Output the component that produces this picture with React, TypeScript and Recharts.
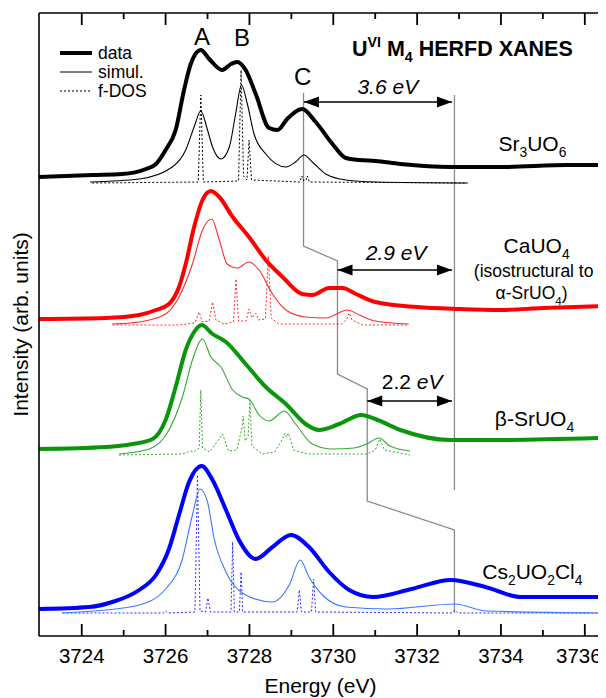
import {
  LineChart,
  Line,
  XAxis,
  YAxis,
  Legend,
  ReferenceLine,
  ReferenceDot,
} from "recharts";

const FONT = "'Liberation Sans', Arial, sans-serif";

const CHART_W = 598;
const CHART_H = 690;
const MARGIN = { top: 4, right: 3, bottom: 22, left: 30 };
const X_AXIS_H = 40;
const PLOT_BOTTOM = CHART_H - MARGIN.bottom - X_AXIS_H;

const X_DOMAIN = [3722.98, 3736.41];
const Y_DOMAIN = [0, 6.23];
const X_TICKS = [3724, 3725, 3726, 3727, 3728, 3729, 3730, 3731, 3732, 3733, 3734, 3735, 3736];
// inward tick length in y units (major / minor)
const TICK_MAJOR = 0.12;
const TICK_MINOR = 0.06;

// [energy (eV), intensity (arb. units, stacked)]
const SR_DATA = [
  [3722.98, 4.59], [3724.25, 4.61], [3724.96, 4.62], [3725.53, 4.67], [3725.77, 4.72],
  [3726.0, 4.86], [3726.24, 5.06], [3726.44, 5.46], [3726.6, 5.72], [3726.84, 5.86],
  [3727.04, 5.77], [3727.35, 5.66], [3727.56, 5.72], [3727.71, 5.74], [3727.91, 5.66],
  [3728.15, 5.42], [3728.47, 5.08], [3728.67, 5.06], [3728.9, 5.17], [3729.26, 5.27],
  [3729.58, 5.14], [3729.98, 4.92], [3730.3, 4.78], [3730.62, 4.76], [3731.0, 4.75],
  [3731.6, 4.72], [3732.8, 4.69], [3734.0, 4.69], [3735.6, 4.71], [3736.41, 4.71],
];
const SR_SIMUL = [
  [3724.2, 4.54], [3725.37, 4.57], [3726.16, 4.69], [3726.48, 4.86], [3726.68, 5.09],
  [3726.84, 5.25], [3727.0, 5.06], [3727.12, 4.89], [3727.32, 4.77], [3727.52, 4.89],
  [3727.67, 5.22], [3727.81, 5.51], [3727.95, 5.32], [3728.11, 5.02], [3728.39, 4.82],
  [3728.87, 4.69], [3729.1, 4.74], [3729.3, 4.81], [3729.5, 4.74], [3729.82, 4.62],
  [3730.3, 4.56], [3731.0, 4.54], [3733.2, 4.53],
];
const SR_FDOS = [
  [3724.25, 4.53], [3726.78, 4.54], [3726.84, 5.41], [3726.9, 4.54], [3727.74, 4.55],
  [3727.8, 5.66], [3727.86, 4.6], [3727.94, 4.56], [3727.99, 4.96], [3728.05, 4.56],
  [3729.2, 4.54], [3729.25, 4.6], [3729.3, 4.55], [3729.35, 4.56], [3729.38, 4.6],
  [3729.43, 4.54], [3733.2, 4.53],
];

const CA_DATA = [
  [3722.98, 3.17], [3724.57, 3.18], [3725.37, 3.21], [3725.77, 3.26], [3726.08, 3.32],
  [3726.32, 3.49], [3726.48, 3.72], [3726.68, 4.09], [3726.88, 4.36], [3727.08, 4.45],
  [3727.28, 4.39], [3727.6, 4.19], [3727.99, 3.99], [3728.39, 3.76], [3728.79, 3.59],
  [3729.26, 3.42], [3729.5, 3.41], [3729.9, 3.48], [3730.22, 3.48], [3730.54, 3.42],
  [3731.0, 3.34], [3732.0, 3.29], [3733.0, 3.27], [3734.0, 3.26], [3735.0, 3.28],
  [3736.41, 3.3],
];
const CA_SIMUL = [
  [3724.73, 3.12], [3725.37, 3.14], [3726.0, 3.22], [3726.32, 3.39], [3726.64, 3.72],
  [3726.88, 4.06], [3727.1, 4.17], [3727.28, 3.96], [3727.47, 3.72], [3727.71, 3.68],
  [3727.99, 3.74], [3728.23, 3.66], [3728.55, 3.42], [3728.87, 3.26], [3729.34, 3.19],
  [3729.82, 3.18], [3730.34, 3.26], [3730.62, 3.21], [3731.0, 3.15], [3731.8, 3.12],
];
const CA_FDOS = [
  [3724.73, 3.11], [3726.3, 3.11], [3726.7, 3.13], [3726.8, 3.24], [3726.88, 3.14],
  [3727.04, 3.15], [3727.12, 3.34], [3727.2, 3.16], [3727.4, 3.12], [3727.62, 3.14],
  [3727.68, 3.57], [3727.74, 3.15], [3727.92, 3.15], [3727.99, 3.27], [3728.06, 3.18],
  [3728.15, 3.23], [3728.22, 3.16], [3728.38, 3.17], [3728.45, 3.8], [3728.52, 3.18],
  [3728.7, 3.12], [3730.2, 3.12], [3730.32, 3.17], [3730.38, 3.23], [3730.45, 3.16],
  [3730.7, 3.11], [3731.8, 3.11],
];

const BE_DATA = [
  [3722.98, 1.87], [3724.57, 1.89], [3725.21, 1.92], [3725.69, 1.97], [3726.0, 2.16],
  [3726.24, 2.49], [3726.48, 2.86], [3726.68, 3.04], [3726.86, 3.11], [3727.12, 3.02],
  [3727.44, 2.94], [3727.91, 2.72], [3728.39, 2.49], [3728.87, 2.32], [3729.34, 2.12],
  [3729.66, 2.06], [3730.14, 2.12], [3730.67, 2.21], [3731.0, 2.17], [3731.6, 2.06],
  [3732.8, 1.96], [3734.1, 1.96], [3736.41, 1.98],
];
const BE_SIMUL = [
  [3724.89, 1.82], [3725.61, 1.87], [3726.08, 2.06], [3726.4, 2.39], [3726.64, 2.76],
  [3726.88, 2.97], [3727.08, 2.79], [3727.32, 2.69], [3727.6, 2.46], [3727.83, 2.39],
  [3727.99, 2.37], [3728.23, 2.21], [3728.47, 2.15], [3728.83, 2.25], [3729.1, 2.12],
  [3729.5, 1.92], [3729.98, 1.87], [3730.5, 1.88], [3730.8, 1.92], [3731.09, 1.98],
  [3731.35, 1.9], [3731.83, 1.85],
];
const BE_FDOS = [
  [3724.89, 1.81], [3726.4, 1.82], [3726.6, 1.85], [3726.66, 1.84], [3726.8, 1.88],
  [3726.84, 2.46], [3726.88, 1.88], [3727.05, 1.84], [3727.36, 2.02], [3727.5, 1.85],
  [3727.7, 1.86], [3727.82, 2.08], [3727.85, 2.2], [3727.9, 1.95], [3727.97, 2.0],
  [3728.01, 2.36], [3728.06, 1.9], [3728.3, 1.82], [3728.6, 1.84], [3728.8, 1.98],
  [3728.85, 2.03], [3728.88, 1.99], [3728.93, 2.03], [3729.05, 1.86], [3729.4, 1.82],
  [3730.8, 1.82], [3731.0, 1.86], [3731.11, 1.97], [3731.22, 1.86], [3731.83, 1.81],
];

const CS_DATA = [
  [3722.98, 0.27], [3724.18, 0.29], [3724.73, 0.34], [3725.37, 0.46], [3725.77, 0.61],
  [3726.08, 0.87], [3726.32, 1.21], [3726.56, 1.54], [3726.86, 1.7], [3727.12, 1.56],
  [3727.44, 1.26], [3727.75, 0.96], [3728.15, 0.77], [3728.55, 0.89], [3728.99, 1.01],
  [3729.42, 0.89], [3729.9, 0.64], [3730.38, 0.46], [3730.95, 0.39], [3731.87, 0.47],
  [3732.8, 0.56], [3733.63, 0.49], [3734.47, 0.39], [3736.41, 0.39],
];
const CS_SIMUL = [
  [3723.54, 0.23], [3724.57, 0.26], [3725.37, 0.31], [3726.0, 0.47], [3726.4, 0.77],
  [3726.64, 1.21], [3726.82, 1.47], [3727.0, 1.34], [3727.16, 0.97], [3727.44, 0.64],
  [3727.91, 0.41], [3728.55, 0.34], [3728.95, 0.51], [3729.21, 0.76], [3729.42, 0.59],
  [3729.74, 0.41], [3730.3, 0.29], [3731.3, 0.27], [3732.9, 0.32], [3733.65, 0.25],
  [3736.41, 0.23],
];
const CS_FDOS = [
  [3723.54, 0.23], [3725.95, 0.23], [3726.0, 0.25], [3726.05, 0.23], [3726.7, 0.24],
  [3726.76, 1.61], [3726.82, 0.25], [3726.95, 0.24], [3727.01, 0.38], [3727.07, 0.24],
  [3727.56, 0.24], [3727.6, 0.94], [3727.64, 0.24], [3727.76, 0.24], [3727.8, 0.64],
  [3727.84, 0.24], [3729.14, 0.24], [3729.19, 0.46], [3729.24, 0.24], [3729.48, 0.24],
  [3729.53, 0.57], [3729.58, 0.24], [3732.83, 0.23], [3732.9, 0.26], [3732.97, 0.23],
  [3736.41, 0.23],
];

// C-peak guide and reference line
const GUIDE = [
  [3729.29, 5.43], [3729.29, 3.9], [3730.1, 3.75], [3730.1, 2.62],
  [3730.81, 2.47], [3730.81, 1.35], [3732.89, 1.06], [3732.89, 0.23],
];
const REF_LINE = [[3732.89, 5.41], [3732.89, 1.46]];

const SPECTRA = [
  { name: "Sr3UO6", data: SR_DATA, simul: SR_SIMUL, fdos: SR_FDOS, color: "#000000", thin: "#000000", dots: "#000000" },
  { name: "CaUO4", data: CA_DATA, simul: CA_SIMUL, fdos: CA_FDOS, color: "#ff0000", thin: "#ff2a2a", dots: "#ff2a2a" },
  { name: "b-SrUO4", data: BE_DATA, simul: BE_SIMUL, fdos: BE_FDOS, color: "#0a960a", thin: "#35a835", dots: "#35a835" },
  { name: "Cs2UO2Cl4", data: CS_DATA, simul: CS_SIMUL, fdos: CS_FDOS, color: "#0000ff", thin: "#3b78ff", dots: "#2a2aff" },
];

const ARROWS = [
  { from: 3729.3, to: 3732.83, y: 5.34 },
  { from: 3730.1, to: 3732.83, y: 3.66 },
  { from: 3730.81, to: 3732.83, y: 2.35 },
];

type Part = { t: string; sub?: boolean; sup?: boolean; italic?: boolean };
type Note = { e: number; v: number; size: number; bold?: boolean; parts: Part[] };

const NOTES: Note[] = [
  { e: 3726.87, v: 6.0, size: 24, parts: [{ t: "A" }] },
  { e: 3727.82, v: 5.99, size: 24, parts: [{ t: "B" }] },
  { e: 3729.27, v: 5.6, size: 24, parts: [{ t: "C" }] },
  {
    e: 3733.08, v: 5.88, size: 21.5, bold: true,
    parts: [{ t: "U" }, { t: "VI", sup: true }, { t: " M" }, { t: "4", sub: true }, { t: " HERFD XANES" }],
  },
  { e: 3731.3, v: 5.5, size: 21, parts: [{ t: "3.6 eV", italic: true }] },
  { e: 3731.5, v: 3.84, size: 21, parts: [{ t: "2.9 eV", italic: true }] },
  { e: 3731.88, v: 2.55, size: 21, parts: [{ t: "2.2 " }, { t: "eV", italic: true }] },
  { e: 3734.75, v: 4.93, size: 21, parts: [{ t: "Sr" }, { t: "3", sub: true }, { t: "UO" }, { t: "6", sub: true }] },
  { e: 3734.85, v: 3.91, size: 21, parts: [{ t: "CaUO" }, { t: "4", sub: true }] },
  { e: 3734.78, v: 3.65, size: 17.5, parts: [{ t: "(isostructural to" }] },
  { e: 3734.73, v: 3.43, size: 17.5, parts: [{ t: "\u03b1-SrUO" }, { t: "4", sub: true }, { t: ")" }] },
  { e: 3734.8, v: 2.18, size: 21, parts: [{ t: "\u03b2-SrUO" }, { t: "4", sub: true }] },
  {
    e: 3734.75, v: 0.65, size: 21,
    parts: [{ t: "Cs" }, { t: "2", sub: true }, { t: "UO" }, { t: "2", sub: true }, { t: "Cl" }, { t: "4", sub: true }],
  },
];

const LEGEND_ITEMS = [
  { label: "data", width: 4, dash: undefined },
  { label: "simul.", width: 1, dash: undefined },
  { label: "f-DOS", width: 1, dash: "2 2" },
];

const toPoints = (rows: number[][]) => rows.map(([e, v]) => ({ e, v }));
const isMajor = (t: number) => t % 2 === 0;

// inward tick marks on the bottom and top frame, as broken line segments
const tickMarks = (edge: number, dir: number) =>
  X_TICKS.flatMap((t) => [
    { e: t, v: edge },
    { e: t, v: edge + dir * (isMajor(t) ? TICK_MAJOR : TICK_MINOR) },
    { e: t, v: null },
  ]);

function RichText({ cx, cy, note }: { cx: number; cy: number; note: Note }) {
  const { size, bold, parts } = note;
  let shift = 0;
  return (
    <text
      x={cx}
      y={cy + size * 0.36}
      textAnchor="middle"
      fontFamily={FONT}
      fontSize={size}
      fontWeight={bold ? "bold" : "normal"}
      fill="#000"
    >
      {parts.map((p, i) => {
        const target = p.sub ? size * 0.3 : p.sup ? -size * 0.42 : 0;
        const dy = target - shift;
        shift = target;
        return (
          <tspan
            key={i}
            dy={dy}
            fontSize={p.sub || p.sup ? size * 0.66 : size}
            fontStyle={p.italic ? "italic" : "normal"}
          >
            {p.t}
          </tspan>
        );
      })}
    </text>
  );
}

function TickLabel(props: any) {
  const { x, payload } = props;
  if (!isMajor(payload.value)) return <g />;
  const last = payload.value === X_TICKS[X_TICKS.length - 1];
  return (
    <text
      x={last ? x - 6 : x}
      y={PLOT_BOTTOM + 27}
      textAnchor="middle"
      fontFamily={FONT}
      fontSize={20.5}
      fill="#000"
    >
      {payload.value}
    </text>
  );
}

function LegendKey() {
  return (
    <svg width={110} height={60} style={{ display: "block" }}>
      {LEGEND_ITEMS.map((item, i) => (
        <g key={item.label}>
          <line
            x1={0}
            x2={32}
            y1={10 + i * 19}
            y2={10 + i * 19}
            stroke="#000"
            strokeWidth={item.width}
            strokeDasharray={item.dash}
          />
          <text x={38} y={10 + i * 19 + 6} fontFamily={FONT} fontSize={17.5} fill="#000">
            {item.label}
          </text>
        </g>
      ))}
    </svg>
  );
}

const frame = { stroke: "#000", strokeWidth: 1.6 };

export default function App() {
  const [yMin, yMax] = Y_DOMAIN;
  return (
    <div style={{ width: CHART_W, height: CHART_H }}>
      <LineChart width={CHART_W} height={CHART_H} margin={MARGIN}>
        <XAxis
          dataKey="e"
          type="number"
          domain={X_DOMAIN}
          ticks={X_TICKS}
          interval={0}
          allowDataOverflow
          height={X_AXIS_H}
          tickSize={0}
          tickMargin={0}
          tickLine={false}
          axisLine={frame}
          tick={<TickLabel />}
          label={{
            content: ({ viewBox }: any) => (
              <text
                x={viewBox.x + viewBox.width / 2}
                y={PLOT_BOTTOM + 57}
                textAnchor="middle"
                fontFamily={FONT}
                fontSize={21}
                fill="#000"
              >
                Energy (eV)
              </text>
            ),
          }}
        />
        <XAxis
          xAxisId="top"
          orientation="top"
          dataKey="e"
          type="number"
          domain={X_DOMAIN}
          allowDataOverflow
          height={1}
          tick={false}
          tickLine={false}
          axisLine={frame}
        />
        <YAxis
          type="number"
          domain={Y_DOMAIN}
          allowDataOverflow
          width={1}
          tick={false}
          tickLine={false}
          axisLine={frame}
          label={{
            content: ({ viewBox }: any) => {
              const lx = MARGIN.left + 1 - 18;
              const ly = viewBox.y + viewBox.height / 2;
              return (
                <text
                  x={lx}
                  y={ly}
                  dy={7}
                  transform={`rotate(-90 ${lx} ${ly})`}
                  textAnchor="middle"
                  fontFamily={FONT}
                  fontSize={21}
                  fill="#000"
                >
                  Intensity (arb. units)
                </text>
              );
            },
          }}
        />
        <YAxis
          yAxisId="right"
          orientation="right"
          type="number"
          domain={Y_DOMAIN}
          allowDataOverflow
          width={1}
          tick={false}
          tickLine={false}
          axisLine={frame}
        />
        <Legend
          layout="vertical"
          align="center"
          verticalAlign="middle"
          content={() => <LegendKey />}
          wrapperStyle={{ left: 52, top: 35, width: 110 }}
        />

        <Line data={tickMarks(yMin, 1)} dataKey="v" type="linear" stroke="#000" strokeWidth={1.8} connectNulls={false} dot={false} activeDot={false} isAnimationActive={false} />
        <Line data={tickMarks(yMax, -1)} dataKey="v" type="linear" stroke="#000" strokeWidth={1.8} connectNulls={false} dot={false} activeDot={false} isAnimationActive={false} />

        <Line data={toPoints(GUIDE)} dataKey="v" type="linear" stroke="#8a8a8a" strokeWidth={1.3} dot={false} activeDot={false} isAnimationActive={false} />
        <Line data={toPoints(REF_LINE)} dataKey="v" type="linear" stroke="#8a8a8a" strokeWidth={1.3} dot={false} activeDot={false} isAnimationActive={false} />

        {SPECTRA.map((s) => (
          <Line
            key={s.name + "-fdos"}
            data={toPoints(s.fdos)}
            dataKey="v"
            type="linear"
            stroke={s.dots}
            strokeWidth={1}
            strokeDasharray="2 2"
            dot={false}
            activeDot={false}
            isAnimationActive={false}
          />
        ))}
        {SPECTRA.map((s) => (
          <Line
            key={s.name + "-simul"}
            data={toPoints(s.simul)}
            dataKey="v"
            type="monotone"
            stroke={s.thin}
            strokeWidth={1.1}
            dot={false}
            activeDot={false}
            isAnimationActive={false}
          />
        ))}
        {SPECTRA.map((s) => (
          <Line
            key={s.name + "-data"}
            data={toPoints(s.data)}
            dataKey="v"
            type="monotone"
            stroke={s.color}
            strokeWidth={4}
            dot={false}
            activeDot={false}
            isAnimationActive={false}
          />
        ))}

        {ARROWS.map((a, i) => (
          <ReferenceLine
            key={"shaft" + i}
            segment={[{ x: a.from, y: a.y }, { x: a.to, y: a.y }]}
            stroke="#000"
            strokeWidth={1.4}
          />
        ))}
        {ARROWS.map((a, i) => (
          <ReferenceDot
            key={"headL" + i}
            x={a.from}
            y={a.y}
            r={0}
            shape={(p: any) => (
              <polygon
                points={`${p.cx},${p.cy} ${p.cx + 15},${p.cy - 5.5} ${p.cx + 15},${p.cy + 5.5}`}
                fill="#000"
              />
            )}
          />
        ))}
        {ARROWS.map((a, i) => (
          <ReferenceDot
            key={"headR" + i}
            x={a.to}
            y={a.y}
            r={0}
            shape={(p: any) => (
              <polygon
                points={`${p.cx},${p.cy} ${p.cx - 15},${p.cy - 5.5} ${p.cx - 15},${p.cy + 5.5}`}
                fill="#000"
              />
            )}
          />
        ))}
        {NOTES.map((n, i) => (
          <ReferenceDot
            key={"note" + i}
            x={n.e}
            y={n.v}
            r={0}
            ifOverflow="visible"
            shape={(p: any) => <RichText cx={p.cx} cy={p.cy} note={n} />}
          />
        ))}
      </LineChart>
    </div>
  );
}
